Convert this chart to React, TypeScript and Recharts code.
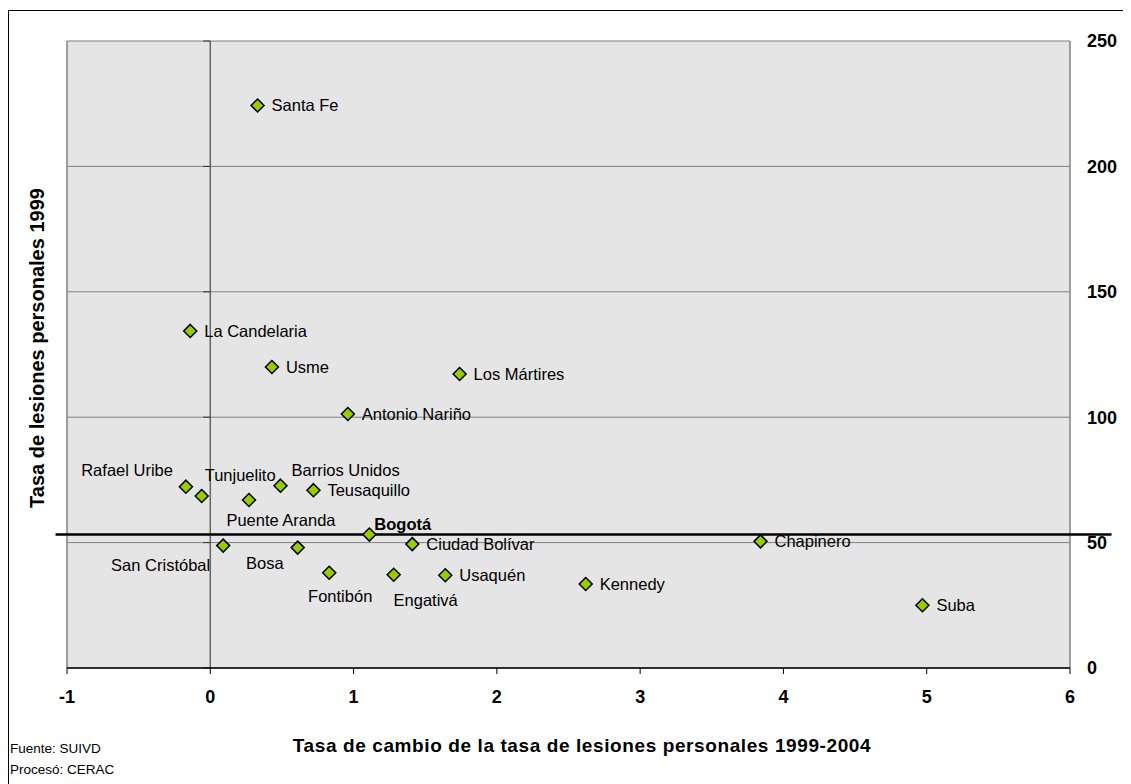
import {
  ScatterChart,
  Scatter,
  XAxis,
  YAxis,
  CartesianGrid,
  ReferenceLine,
} from 'recharts';

const districts = [
  'Santa Fe',
  'La Candelaria',
  'Usme',
  'Los Mártires',
  'Antonio Nariño',
  'Rafael Uribe',
  'Tunjuelito',
  'Puente Aranda',
  'Barrios Unidos',
  'Teusaquillo',
  'Bogotá',
  'Ciudad Bolívar',
  'Chapinero',
  'San Cristóbal',
  'Bosa',
  'Fontibón',
  'Engativá',
  'Usaquén',
  'Kennedy',
  'Suba',
];

// tasa de cambio 1999-2004
const changeRate = [
  0.33, -0.14, 0.43, 1.74, 0.96, -0.17, -0.06, 0.27, 0.49, 0.72, 1.11, 1.41,
  3.84, 0.09, 0.61, 0.83, 1.28, 1.64, 2.62, 4.97,
];

// tasa de lesiones personales 1999
const rate1999 = [
  224.3, 134.4, 120.0, 117.2, 101.3, 72.3, 68.6, 67.0, 72.7, 70.9, 53.2, 49.4,
  50.5, 48.8, 48.0, 38.0, 37.2, 37.0, 33.5, 25.0,
];

const xTicks = [-1, 0, 1, 2, 3, 4, 5, 6];
const yTicks = [0, 50, 100, 150, 200, 250];

const bogotaRate = rate1999[districts.indexOf('Bogotá')];

const data = districts.map((name, i) => ({
  name,
  x: changeRate[i],
  y: rate1999[i],
}));

// label placement, relative to the marker
const LABEL_POS: Record<string, { dx: number; dy: number; anchor: string }> = {
  'Rafael Uribe': { dx: -13, dy: -16, anchor: 'end' },
  Tunjuelito: { dx: 3, dy: -21, anchor: 'start' },
  'Puente Aranda': { dx: 32, dy: 20, anchor: 'middle' },
  'Barrios Unidos': { dx: 11, dy: -15, anchor: 'start' },
  Bogotá: { dx: 5, dy: -10, anchor: 'start' },
  'San Cristóbal': { dx: -13, dy: 20, anchor: 'end' },
  Bosa: { dx: -14, dy: 16, anchor: 'end' },
  Fontibón: { dx: 11, dy: 24, anchor: 'middle' },
  Engativá: { dx: 32, dy: 26, anchor: 'middle' },
};

const FONT = '"Liberation Sans", Arial, sans-serif';

function Diamond(props: any) {
  const { cx, cy, payload } = props;
  const r = 6.5;
  const pos = LABEL_POS[payload.name] ?? { dx: 14, dy: 0, anchor: 'start' };
  return (
    <g>
      <polygon
        points={`${cx},${cy - r} ${cx + r},${cy} ${cx},${cy + r} ${cx - r},${cy}`}
        fill="#99CC00"
        stroke="#000"
        strokeWidth={1.5}
      />
      <text
        x={cx + pos.dx}
        y={cy + pos.dy}
        dy="0.35em"
        textAnchor={pos.anchor as any}
        fontFamily={FONT}
        fontSize={16.5}
        fontWeight={payload.name === 'Bogotá' ? 'bold' : 'normal'}
        fill="#000"
      >
        {payload.name}
      </text>
    </g>
  );
}

export default function App() {
  return (
    <div
      style={{
        position: 'relative',
        width: 1123,
        height: 774,
        marginTop: 2,
        fontFamily: FONT,
      }}
    >
      <div
        style={{
          position: 'absolute',
          left: 0,
          top: 0,
          width: 1123,
          height: 774,
          borderLeft: '1px solid #000',
          borderTop: '1px solid #000',
          boxSizing: 'border-box',
        }}
      />
      <div style={{ position: 'absolute', left: 0, top: 0 }}>
        <ScatterChart
          width={1123}
          height={774}
          margin={{ top: 31, left: 59, right: 11, bottom: 0 }}
        >
          <CartesianGrid
            vertical={false}
            stroke="#808080"
            fill="#E5E5E5"
            fillOpacity={1}
          />
          <XAxis
            type="number"
            dataKey="x"
            domain={[-1, 6]}
            ticks={xTicks}
            allowDataOverflow
            height={116}
            axisLine={{ stroke: '#000', strokeWidth: 1.5 }}
            tickLine={{ stroke: '#000' }}
            tickSize={6}
            tickMargin={16}
            tick={{ fill: '#000', fontSize: 18, fontWeight: 'bold', fontFamily: FONT }}
          />
          <YAxis
            type="number"
            dataKey="y"
            orientation="right"
            domain={[0, 250]}
            ticks={yTicks}
            width={50}
            axisLine={false}
            tickLine={false}
            tickSize={0}
            tickMargin={17}
            tick={{
              fill: '#000',
              fontSize: 18,
              fontWeight: 'bold',
              fontFamily: FONT,
              textAnchor: 'start',
            }}
          />
          <ReferenceLine x={-1} stroke="#808080" strokeWidth={1.5} />
          <ReferenceLine x={6} stroke="#808080" strokeWidth={1.5} />
          <ReferenceLine x={0} stroke="#666" strokeWidth={1.5} />
          {yTicks.map((t) => (
            <ReferenceLine
              key={t}
              segment={[
                { x: -0.05, y: t },
                { x: 0, y: t },
              ]}
              stroke="#333"
              strokeWidth={1}
            />
          ))}
          <ReferenceLine
            segment={[
              { x: -1.08, y: bogotaRate },
              { x: 6.29, y: bogotaRate },
            ]}
            ifOverflow="visible"
            stroke="#000"
            strokeWidth={2.5}
          />
          <Scatter data={data} shape={<Diamond />} isAnimationActive={false} />
        </ScatterChart>
      </div>
      <div
        style={{
          position: 'absolute',
          left: 29,
          top: 338,
          transform: 'translate(-50%, -50%) rotate(-90deg)',
          whiteSpace: 'nowrap',
          fontSize: 20,
          fontWeight: 'bold',
          color: '#000',
        }}
      >
        Tasa de lesiones personales 1999
      </div>
      <div
        style={{
          position: 'absolute',
          left: 574,
          top: 736,
          transform: 'translate(-50%, -50%)',
          whiteSpace: 'nowrap',
          fontSize: 19,
          fontWeight: 'bold',
          letterSpacing: 0.6,
          color: '#000',
        }}
      >
        Tasa de cambio de la tasa de lesiones personales 1999-2004
      </div>
      <div
        style={{
          position: 'absolute',
          left: 2,
          top: 728,
          fontSize: 13.5,
          lineHeight: '21px',
          color: '#000',
        }}
      >
        Fuente: SUIVD
        <br />
        Procesó: CERAC
      </div>
    </div>
  );
}
